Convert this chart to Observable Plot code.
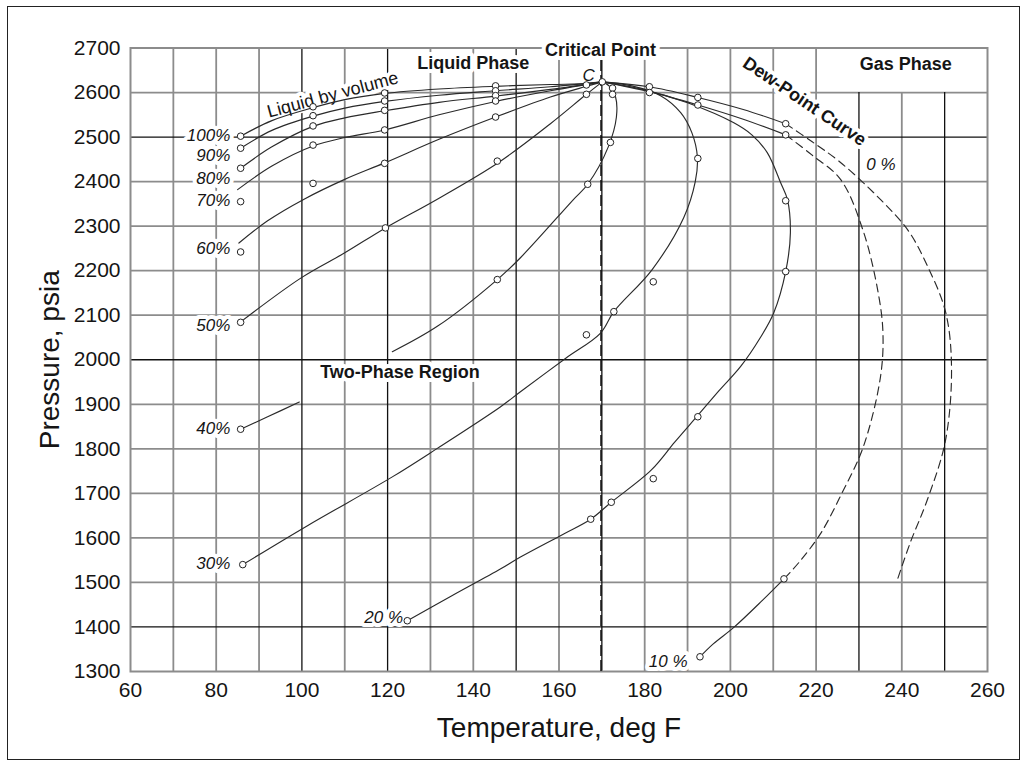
<!DOCTYPE html>
<html><head><meta charset="utf-8">
<script src="https://cdn.jsdelivr.net/npm/d3@7"></script>
<script src="https://cdn.jsdelivr.net/npm/@observablehq/plot@0.6"></script>
<style>
body{margin:0;background:#fff;}
#wrap{position:relative;width:1028px;height:763px;overflow:hidden;background:#fff;}
#border{position:absolute;left:7px;top:6px;width:1011px;height:752px;border:1.5px solid #222;pointer-events:none;}
</style></head><body><div id="wrap"><div id="border"></div></div>
<script>
// ---- data (Temperature degF, Pressure psia) ----
const xTicks = [60, 80, 100, 120, 140, 160, 180, 200, 220, 240, 260];
const yTicks = [1300, 1400, 1500, 1600, 1700, 1800, 1900, 2000, 2100, 2200, 2300, 2400, 2500, 2600, 2700];
const xGrid = [70, 80, 90, 100, 110, 120, 130, 140, 150, 160, 170, 180, 190, 200, 210, 220, 230, 240, 250];
const xGridDark = [100, 120, 150, 170, 230, 250];
const yGrid = [1400, 1500, 1600, 1700, 1800, 1900, 2000, 2100, 2200, 2300, 2400, 2500, 2600];
const yGridDark = [1400, 2000, 2500];
const criticalT = [169.8];

const q100 = [[85.7,2502],[93,2537],[102.6,2566],[110,2584],[119.3,2598],[132,2608],[145.2,2614],[158,2618],[166.4,2620],[170.1,2624]];
const q90 = [[85.7,2475],[93,2515],[102.6,2547],[110,2565],[119.3,2580],[132,2594],[145.2,2604],[158,2613],[170.1,2624]];
const q80 = [[85.7,2430],[93,2478],[102.6,2524],[110,2543],[119.3,2559],[132,2578],[145.2,2592],[158,2607],[170.1,2624]];
const q70 = [[85,2382],[93,2435],[102.6,2480],[110,2499],[119.3,2516],[132,2550],[145.2,2580],[158,2604],[170.1,2624]];
const q60 = [[85.3,2262],[92,2312],[100.4,2360],[110,2405],[119.3,2442],[132,2495],[145.2,2545],[158,2590],[166.4,2614],[170.1,2624]];
const q50 = [[85.7,2085],[100,2185],[110,2240],[119.5,2296],[131.5,2360],[145.9,2443],[158,2530],[166.4,2596],[170.1,2624]];
const q40a = [[85.7,1844],[92,1872],[99.4,1905]];
const q40b = [[121.1,2018],[131.6,2075],[145.6,2180],[151,2229],[163.2,2358],[166.7,2394],[171.5,2478],[173.4,2545],[173.2,2590],[171.8,2614],[170.1,2624]];
const q30 = [[86.2,1540],[101.4,1628],[121.1,1737],[131.6,1801],[146.3,1894],[151,1928],[161.5,2003],[169.7,2060],[172.8,2108],[181.7,2202],[189.1,2319],[191.8,2400],[192.3,2455],[191,2510],[188.4,2555],[183.7,2593],[177,2615],[170.1,2624]];
const q20 = [[124.6,1414],[135,1470],[146.3,1530],[151,1557],[161.1,1609],[167.4,1642],[172.2,1680],[181.5,1752],[187,1815],[192.4,1875],[197.3,1930],[202.4,1985],[207,2050],[210.1,2105],[212.9,2198],[214,2285],[213.3,2360],[211.7,2398],[208.6,2465],[205,2505],[200.8,2532],[190,2577],[180,2606],[170.1,2624]];
const q10Top = [[170.1,2624],[181.1,2602],[192.4,2572],[203,2540],[212.9,2505]];
const q10Dew = [[212.9,2505],[219,2460],[225.7,2405],[231,2289],[234.5,2150],[235.6,2060],[235,1960],[231,1804],[226,1700],[221,1609],[216,1545],[212.5,1508]];
const q10Low = [[212.5,1508],[207.4,1459],[200.8,1399],[196,1362],[192.9,1333]];
const q0Top = [[170.1,2624],[181.1,2613],[192.4,2589],[203,2562],[212.9,2530]];
const q0Dew = [[212.9,2530],[219,2490],[225.7,2443],[235,2360],[241.5,2290],[246,2210],[250.2,2108],[251.6,1984],[250.2,1819],[245.9,1684],[242,1590],[238.9,1504]];

const solidCurves = [q100, q90, q80, q70, q60, q50, q40a, q40b, q30, q20, q10Top, q10Low, q0Top];
const dashedCurves = [q10Dew, q0Dew];

const points = [[85.7,2502],[85.7,2475],[85.7,2430],[85.7,2355],[85.7,2242],[85.7,2084],[85.7,1844],[86.2,1540],
  [102.6,2568],[102.6,2548],[102.6,2525],[102.6,2482],[102.6,2396],
  [119.3,2599],[119.3,2581],[119.3,2560],[119.3,2516],[119.3,2441],[119.5,2296],
  [145.2,2615],[145.2,2604],[145.2,2593],[145.2,2581],[145.2,2545],[145.6,2446],[145.6,2180],
  [166.4,2617],[166.4,2596],[166.7,2394],[166.4,2056],[167.4,1642],
  [170.1,2624],
  [172.5,2610],[172.5,2596],[172,2488],[172.8,2108],[172.2,1680],
  [181.1,2613],[181.1,2600],[182,2175],[182,1733],
  [192.4,2589],[192.4,2572],[192.4,2452],[192.4,1872],[192.9,1333],
  [212.9,2530],[212.9,2505],[212.9,2357],[212.9,2198],[212.5,1508],
  [124.6,1414]];

const leftLabels = ["100%","90%","80%","70%","60%","50%","40%","30%"];
const leftLabelP = [2504,2459,2407,2358,2250,2077,1846,1543];
const leftLabelT = 83.3;
const endLabels = [
  {text:"20 %", t:123.6, p:1421},
  {text:"10 %", t:190, p:1322}
];
const startLabels = [{text:"0 %", t:231.7, p:2438}];
const regionLabels = [
  {text:"Liquid Phase", t:140, p:2665},
  {text:"Critical Point", t:169.7, p:2695},
  {text:"Gas Phase", t:240.9, p:2663},
  {text:"Two-Phase Region", t:122.9, p:1973}
];
const volumeLabel = [{text:"Liquid by volume", t:107.2, p:2595}];
const dewLabel = [{text:"Dew-Point Curve", t:217.3, p:2580}];
const cLabel = [{text:"C", t:166.9, p:2638}];

// ---- chart ----
const ink = "#151515";
const halo = {stroke:"white", strokeWidth:8, paintOrder:"stroke", strokeLinejoin:"round"};
const lineOpts = {x:d=>d[0], y:d=>d[1], stroke:"#2a2a2a", strokeWidth:1.15, curve:"catmull-rom"};

const chart = Plot.plot({
  width: 1028, height: 763,
  marginLeft: 130, marginRight: 41, marginTop: 47.5, marginBottom: 92,
  style: {fontFamily: "'Liberation Sans', Arial, Helvetica, sans-serif", background: "transparent", color: ink},
  x: {domain: [60, 260]},
  y: {domain: [1300, 2700]},
  marks: [
    Plot.ruleX(xGrid.filter(d => !xGridDark.includes(d)), {x: d=>d, y1: 1300, y2: d => d > 220 ? 2600 : 2700, stroke: "#8c8c8c", strokeWidth: 1.8}),
    Plot.ruleY(yGrid.filter(d => !yGridDark.includes(d)), {y: d=>d, x1: 60, x2: 260, stroke: "#8c8c8c", strokeWidth: 1.8}),
    Plot.ruleX(xGridDark, {x: d=>d, y1: 1300, y2: d => d > 220 ? 2600 : 2700, stroke: "#111", strokeWidth: 1.3}),
    Plot.ruleY(yGridDark, {y: d=>d, x1: 60, x2: 260, stroke: "#111", strokeWidth: 1.3}),
    Plot.frame({stroke: "#8c8c8c", strokeWidth: 2}),
    Plot.ruleX(criticalT, {x: d=>d, y1: 1300, y2: 2700, stroke: "#111", strokeWidth: 1.5, strokeDasharray: "11,4"}),
    Plot.axisX({ticks: xTicks, tickSize: 0, tickPadding: 11, fontSize: 21, label: null, fill: ink, tickFormat: d => String(d)}),
    Plot.axisY({ticks: yTicks, tickSize: 0, tickPadding: 10, fontSize: 21, label: null, fill: ink, tickFormat: d => String(d)}),
    Plot.text(["Temperature, deg F"], {frameAnchor: "bottom", dy: 57, fontSize: 28, fill: ink, lineAnchor: "middle", textAnchor: "middle"}),
    Plot.text(["Pressure, psia"], {frameAnchor: "left", dx: -80, rotate: -90, fontSize: 28, fill: ink, lineAnchor: "middle", textAnchor: "middle"}),
    // text labels with white halos
    Plot.text(leftLabels, {x: () => leftLabelT, y: (d, i) => leftLabelP[i], text: d => d, textAnchor: "end", fontSize: 17, fontStyle: "italic", fill: ink, ...halo}),
    Plot.text(endLabels, {x: "t", y: "p", text: "text", textAnchor: "end", fontSize: 17, fontStyle: "italic", fill: ink, ...halo}),
    Plot.text(startLabels, {x: "t", y: "p", text: "text", textAnchor: "start", fontSize: 17, fontStyle: "italic", fill: ink, ...halo}),
    Plot.text(regionLabels, {x: "t", y: "p", text: "text", fontSize: 18, fontWeight: "bold", fill: ink, ...halo}),
    Plot.text(volumeLabel, {x: "t", y: "p", text: "text", rotate: -15, fontSize: 18, fill: ink, ...halo}),
    Plot.text(dewLabel, {x: "t", y: "p", text: "text", rotate: 34, fontSize: 18, fontWeight: "bold", fill: ink, ...halo}),
    Plot.text(cLabel, {x: "t", y: "p", text: "text", fontSize: 17, fontStyle: "italic", fill: ink}),
    // curves
    ...solidCurves.map(c => Plot.line(c, lineOpts)),
    ...dashedCurves.map(c => Plot.line(c, {...lineOpts, strokeDasharray: "8,5"})),
    Plot.dot(points, {x: d=>d[0], y: d=>d[1], r: 3.3, fill: "white", stroke: "#222", strokeWidth: 1})
  ]
});
document.getElementById("wrap").prepend(chart);
</script></body></html>
